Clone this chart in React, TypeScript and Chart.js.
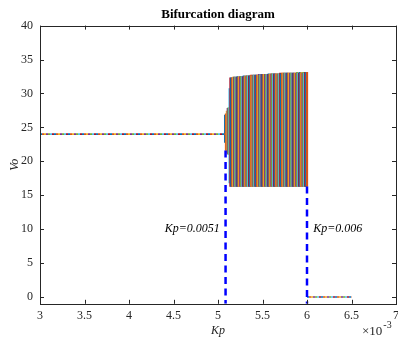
import React, { useEffect, useRef } from "react";
import { Chart, registerables } from "chart.js";

Chart.register(...registerables);

const TITLE = "Bifurcation diagram";
const X_LABEL = "Kp";
const Y_LABEL = "Vo";
const X_EXPONENT_BASE = "×10";
const X_EXPONENT = "-3";

const xTicks = [3, 3.5, 4, 4.5, 5, 5.5, 6, 6.5, 7];
const xTickLabels = ["3", "3.5", "4", "4.5", "5", "5.5", "6", "6.5", "7"];
const yTicks = [0, 5, 10, 15, 20, 25, 30, 35, 40];
const yTickLabels = ["0", "5", "10", "15", "20", "25", "30", "35", "40"];

// Kp (×10^-3) values of the oscillating branch
const kpValues = [
  5.08, 5.09, 5.1, 5.11, 5.12, 5.13, 5.14,
  5.15, 5.16, 5.17, 5.18, 5.19, 5.2, 5.21, 5.22, 5.23, 5.24,
  5.25, 5.26, 5.27, 5.28, 5.29, 5.3, 5.31, 5.32, 5.33, 5.34,
  5.35, 5.36, 5.37, 5.38, 5.39, 5.4, 5.41, 5.42, 5.43, 5.44,
  5.45, 5.46, 5.47, 5.48, 5.49, 5.5, 5.51, 5.52, 5.53, 5.54,
  5.55, 5.56, 5.57, 5.58, 5.59, 5.6, 5.61, 5.62, 5.63, 5.64,
  5.65, 5.66, 5.67, 5.68, 5.69, 5.7, 5.71, 5.72, 5.73, 5.74,
  5.75, 5.76, 5.77, 5.78, 5.79, 5.8, 5.81, 5.82, 5.83, 5.84,
  5.85, 5.86, 5.87, 5.88, 5.89, 5.9, 5.91, 5.92, 5.93, 5.94,
  5.95, 5.96, 5.97, 5.98, 5.99, 6.0,
];
const voHigh = [
  26.8, 27.0, 27.4, 27.8, 27.9, 30.7, 32.3,
  32.3, 32.3, 32.4, 32.4, 32.4, 32.4, 32.4, 32.5, 32.4, 32.5,
  32.5, 32.5, 32.5, 32.5, 32.6, 32.5, 32.6, 32.6, 32.6, 32.6,
  32.6, 32.6, 32.7, 32.6, 32.7, 32.7, 32.7, 32.7, 32.7, 32.7,
  32.7, 32.8, 32.7, 32.8, 32.8, 32.8, 32.8, 32.8, 32.8, 32.8,
  32.8, 32.8, 32.9, 32.8, 32.9, 32.9, 32.9, 32.9, 32.9, 32.9,
  32.9, 32.9, 32.9, 32.9, 32.9, 33.0, 32.9, 33.0, 33.0, 33.0,
  33.0, 33.0, 33.0, 33.0, 33.0, 33.0, 33.0, 33.0, 33.0, 33.0,
  33.0, 33.0, 33.0, 33.0, 33.1, 33.0, 33.0, 33.1, 33.0, 33.1,
  33.0, 33.1, 33.0, 33.1, 33.1, 33.1,
];
const voLow = [
  22.8, 21.6, 21.3, 21.1, 21.0, 16.8, 16.3,
  16.3, 16.3, 16.3, 16.3, 16.3, 16.3, 16.3, 16.3, 16.3, 16.3,
  16.3, 16.3, 16.3, 16.3, 16.3, 16.3, 16.3, 16.3, 16.3, 16.3,
  16.3, 16.3, 16.3, 16.3, 16.3, 16.3, 16.3, 16.3, 16.3, 16.3,
  16.3, 16.3, 16.3, 16.3, 16.3, 16.3, 16.3, 16.3, 16.3, 16.3,
  16.3, 16.3, 16.3, 16.3, 16.3, 16.3, 16.3, 16.3, 16.3, 16.3,
  16.3, 16.3, 16.3, 16.3, 16.3, 16.3, 16.3, 16.3, 16.3, 16.3,
  16.3, 16.3, 16.3, 16.3, 16.3, 16.3, 16.3, 16.3, 16.3, 16.3,
  16.3, 16.3, 16.3, 16.3, 16.3, 16.3, 16.3, 16.3, 16.3, 16.3,
  16.3, 16.3, 16.3, 16.3, 16.3, 16.3,
];

// stable branches
const stableHighKp = [3, 5.075];
const stableHighVo = [24, 24];
const stableZeroKp = [6.0, 6.5];
const stableZeroVo = [0, 0];

// blue dashed transition lines
const transition1Kp = [5.085, 5.085];
const transition1Vo = [21.6, -1];
const transition2Kp = [6.0, 6.0];
const transition2Vo = [16.3, -1];

const annotations = [
  { text: "Kp=0.0051", kp: 5.02, vo: 10, align: "right" as CanvasTextAlign },
  { text: "Kp=0.006", kp: 6.07, vo: 10, align: "left" as CanvasTextAlign },
];

const matlabColors = ["#0072BD", "#D95319", "#EDB120", "#7E2F8E", "#77AC30", "#4DBEEE", "#A2142F"];
const SERIF = "'Liberation Serif', 'Times New Roman', serif";
const AXIS_COLOR = "#262626";

const toPoints = (xs: number[], ys: number[]) => xs.map((x, i) => ({ x, y: ys[i] }));

const multiColorLine = (xs: number[], ys: number[]) =>
  matlabColors.map((c, i) => ({
    type: "line" as const,
    data: toPoints(xs, ys),
    borderColor: c,
    borderWidth: 1.6,
    borderDash: [2, 12],
    borderDashOffset: -2 * i,
    pointRadius: 0,
    fill: false,
    order: 1,
  }));

const frame = {
  id: "matlabFrame",
  afterDatasetsDraw(chart: any) {
    const { ctx, chartArea, scales } = chart;
    const { left, right, top, bottom } = chartArea;
    const x = scales.x;
    const y = scales.y;
    ctx.save();
    ctx.strokeStyle = AXIS_COLOR;
    ctx.lineWidth = 1;
    ctx.beginPath();
    xTicks.forEach((v) => {
      const px = Math.round(x.getPixelForValue(v)) + 0.5;
      ctx.moveTo(px, bottom);
      ctx.lineTo(px, bottom - 4);
      ctx.moveTo(px, top);
      ctx.lineTo(px, top + 4);
    });
    yTicks.forEach((v) => {
      const py = Math.round(y.getPixelForValue(v)) + 0.5;
      ctx.moveTo(left, py);
      ctx.lineTo(left + 4, py);
      ctx.moveTo(right, py);
      ctx.lineTo(right - 4, py);
    });
    ctx.stroke();
    ctx.strokeRect(Math.round(left) + 0.5, Math.round(top) + 0.5, Math.round(right - left), Math.round(bottom - top));

    ctx.fillStyle = "#000";
    ctx.font = `italic 12px ${SERIF}`;
    ctx.textBaseline = "middle";
    annotations.forEach((a) => {
      ctx.textAlign = a.align;
      ctx.fillText(a.text, x.getPixelForValue(a.kp), y.getPixelForValue(a.vo));
    });

    ctx.fillStyle = AXIS_COLOR;
    ctx.textAlign = "left";
    ctx.textBaseline = "alphabetic";
    ctx.font = `13px ${SERIF}`;
    ctx.fillText(X_EXPONENT_BASE, right - 34, 335);
    const w = ctx.measureText(X_EXPONENT_BASE).width;
    ctx.font = `10px ${SERIF}`;
    ctx.fillText(X_EXPONENT, right - 33 + w, 328);
    ctx.restore();
  },
};

export default function App() {
  const ref = useRef<HTMLCanvasElement>(null);
  useEffect(() => {
    if (!ref.current) return;
    const barColors = kpValues.map((_, i) => matlabColors[i % matlabColors.length]);
    const chart = new Chart(ref.current, {
      type: "bar",
      data: {
        datasets: [
          ...multiColorLine(stableHighKp, stableHighVo),
          ...multiColorLine(stableZeroKp, stableZeroVo),
          {
            type: "bar" as const,
            data: kpValues.map((k, i) => ({ x: k, y: [voLow[i], voHigh[i]] })) as any,
            backgroundColor: barColors,
            borderWidth: 0,
            barThickness: 1.6,
            order: 2,
          },
          {
            type: "line" as const,
            data: toPoints(transition1Kp, transition1Vo),
            borderColor: "#0000FF",
            borderWidth: 2.5,
            borderDash: [7, 4.5],
            pointRadius: 0,
            fill: false,
            order: 0,
          },
          {
            type: "line" as const,
            data: toPoints(transition2Kp, transition2Vo),
            borderColor: "#0000FF",
            borderWidth: 2.5,
            borderDash: [7, 4.5],
            pointRadius: 0,
            fill: false,
            order: 0,
          },
        ] as any,
      },
      options: {
        responsive: false,
        animation: false,
        layout: { padding: { left: 0, right: 2, top: 0, bottom: 0 } },
        plugins: {
          legend: { display: false },
          tooltip: { enabled: false },
          title: {
            display: true,
            text: TITLE,
            fullSize: false,
            color: "#000",
            font: { family: SERIF, size: 13, weight: "bold" },
            padding: { top: 7, bottom: 3 },
          },
        },
        scales: {
          x: {
            type: "linear",
            min: 3,
            max: 7,
            offset: false,
            grid: { display: false, drawTicks: false, offset: false },
            border: { display: false },
            ticks: {
              color: AXIS_COLOR,
              font: { family: SERIF, size: 12 },
              padding: 5,
              maxRotation: 0,
              callback: (v: any) => {
                const i = xTicks.indexOf(Number(v));
                return i >= 0 ? xTickLabels[i] : "";
              },
            },
            title: {
              display: true,
              text: X_LABEL,
              color: AXIS_COLOR,
              font: { family: SERIF, size: 12, style: "italic" },
              padding: { top: 0, bottom: -1 },
            },
            afterBuildTicks: (s: any) => {
              s.ticks = xTicks.map((v) => ({ value: v }));
            },
            afterFit: (s: any) => {
              s.height = 33.2;
              s.paddingLeft = 0;
              s.paddingRight = 0;
            },
          },
          y: {
            type: "linear",
            min: -1,
            max: 40,
            grid: { display: false, drawTicks: false },
            border: { display: false },
            ticks: {
              color: AXIS_COLOR,
              font: { family: SERIF, size: 12 },
              padding: 7,
              callback: (v: any) => {
                const i = yTicks.indexOf(Number(v));
                return i >= 0 ? yTickLabels[i] : "";
              },
            },
            title: {
              display: true,
              text: Y_LABEL,
              color: AXIS_COLOR,
              font: { family: SERIF, size: 12, style: "italic" },
              padding: { top: 8, bottom: 0 },
            },
            afterBuildTicks: (s: any) => {
              s.ticks = yTicks.map((v) => ({ value: v }));
            },
            afterFit: (s: any) => {
              s.width = 40;
              s.paddingTop = 0;
              s.paddingBottom = 0;
            },
          },
        },
      } as any,
      plugins: [frame],
    });
    return () => chart.destroy();
  }, []);
  return (
    <div style={{ position: "fixed", left: 0, top: 0, width: 398, height: 337, background: "#fff" }}>
      <canvas ref={ref} width={398} height={337} style={{ display: "block", width: 398, height: 337 }} />
    </div>
  );
}
